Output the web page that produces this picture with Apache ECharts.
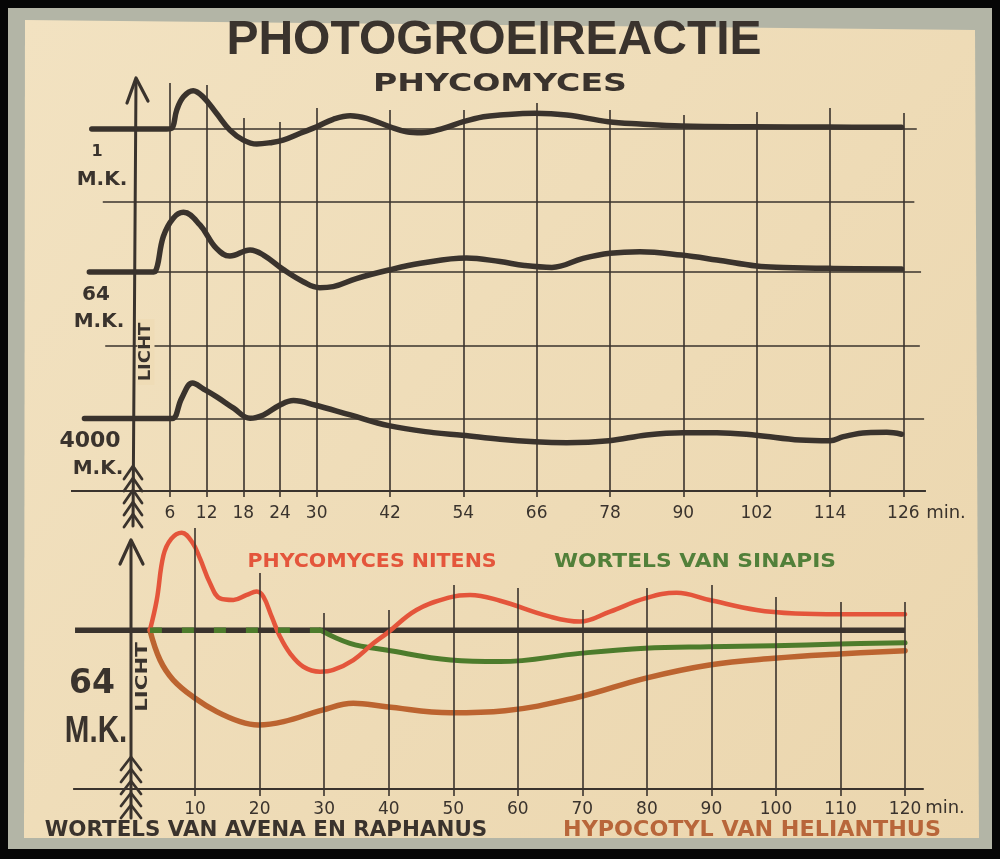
<!DOCTYPE html>
<html><head><meta charset="utf-8">
<script src="https://cdn.jsdelivr.net/npm/echarts@6/dist/echarts.min.js"></script>
<style>html,body{margin:0;padding:0;background:#060606}#c{width:1000px;height:859px}</style>
</head><body><div id="c"></div>
<script>
// ---------------- DATA ----------------
// x tick labels (minutes)
const topTicks = [6, 12, 18, 24, 30, 42, 54, 66, 78, 90, 102, 114, 126];
const bottomTicks = [10, 20, 30, 40, 50, 60, 70, 80, 90, 100, 110, 120];

// Phycomyces, 1 M.K. (time in min, growth deviation in arbitrary units)
const t1mk = [-6.8, 5.5, 6.3, 7.1, 8.2, 9.8, 11.4, 13.6, 15.8, 18.0, 20.2, 22.4, 24.5, 27.3, 30.0, 32.7, 35.5, 38.2, 42.0, 44.7, 47.2, 50.7, 54.0, 57.3, 60.0, 65.7, 70.9, 77.7, 82.9, 89.7, 101.5, 113.7, 125.7];
const v1mk = [0, 0, 0.05, 1.3, 2.22, 2.64, 2.22, 1.08, -0.08, -0.77, -1.04, -0.95, -0.77, -0.3, 0.15, 0.66, 0.91, 0.73, 0.15, -0.19, -0.26, 0.04, 0.5, 0.84, 0.96, 1.08, 0.96, 0.5, 0.34, 0.2, 0.15, 0.13, 0.11];

// Phycomyces, 64 M.K.
const t64mk = [-7.2, 3.0, 3.6, 4.9, 6.5, 8.2, 10.9, 13.6, 15.8, 19.1, 21.3, 24.5, 27.8, 30.5, 32.7, 36.5, 41.8, 47.0, 54.5, 60.0, 64.0, 68.5, 73.6, 78.0, 82.9, 89.7, 95.5, 102.0, 106.4, 114.5, 125.7];
const v64mk = [0, 0, 0.05, 2.44, 3.7, 4.12, 3.25, 1.63, 1.1, 1.52, 1.17, 0.18, -0.67, -1.08, -1.01, -0.45, 0.14, 0.6, 0.97, 0.72, 0.45, 0.32, 0.94, 1.29, 1.4, 1.17, 0.83, 0.41, 0.32, 0.25, 0.2];

// Phycomyces, 4000 M.K.
const t4000mk = [-8.0, 5.8, 6.55, 7.9, 9.7, 11.45, 13.65, 16.4, 19.1, 21.3, 24.0, 26.2, 29.7, 35.5, 41.8, 49.1, 53.8, 60.0, 65.7, 70.9, 77.8, 84.0, 89.9, 95.5, 101.9, 109.1, 114.0, 116.2, 120.0, 123.3, 125.7];
const v4000mk = [0, 0, 0.02, 1.4, 2.45, 2.05, 1.5, 0.72, 0.02, 0.25, 0.94, 1.24, 0.94, 0.25, -0.49, -0.97, -1.15, -1.43, -1.6, -1.66, -1.53, -1.13, -0.97, -0.97, -1.15, -1.48, -1.53, -1.25, -0.97, -0.95, -1.08];

// Lower chart, 64 M.K.
const tNitens = [3.0, 4.06, 5.09, 6.3, 7.93, 9.6, 10.77, 12.32, 13.87, 15.93, 18.0, 19.55, 20.58, 21.87, 23.16, 24.71, 26.77, 29.36, 31.42, 34.52, 37.62, 39.7, 44.3, 49.5, 52.6, 57.25, 65.0, 69.6, 74.3, 79.7, 84.6, 89.7, 97.0, 103.0, 109.8, 120.0];
const vNitens = [0, 1.9, 4.7, 5.75, 6.14, 5.5, 4.5, 2.95, 2.0, 1.9, 2.22, 2.43, 2.11, 0.85, -0.41, -1.46, -2.3, -2.61, -2.5, -1.88, -0.83, -0.2, 1.27, 2.07, 2.22, 1.85, 0.85, 0.54, 1.17, 2.0, 2.36, 1.9, 1.27, 1.05, 1.0, 1.0];

const tSinapisLatent = [3.0, 29.4];
const vSinapisLatent = [0, 0];
const tSinapis = [29.4, 34.0, 39.6, 49.6, 57.25, 69.6, 79.7, 89.6, 99.7, 109.8, 120.0];
const vSinapis = [0, -0.83, -1.25, -1.88, -1.98, -1.46, -1.14, -1.04, -0.98, -0.87, -0.79];

const tHelianthus = [3.0, 4.57, 6.63, 10.0, 13.35, 16.97, 19.8, 23.7, 29.7, 34.5, 39.6, 49.6, 58.0, 69.6, 79.7, 89.7, 99.7, 109.8, 120.0];
const vHelianthus = [0, -1.88, -3.14, -4.29, -5.13, -5.76, -5.97, -5.76, -5.03, -4.6, -4.82, -5.2, -5.07, -4.19, -3.03, -2.19, -1.77, -1.5, -1.29];

const tAvena = [-8.6, 120.0];
const vAvena = [0, 0];

// ---------------- STYLE / LAYOUT ----------------
const INK = '#3a332d';
const RED = '#e4553b';
const GREEN = '#4d7c2c';
const BROWN = '#bc6430';
// hand-drawn heights of the vertical rules (in axis units)
const topRuleTops = [3.17, 3.03, 0.75, 0.48, 1.44, 1.31, 1.31, 1.79, 1.31, 0.96, 1.17, 1.44, 1.1];
const bottomRuleTops = [6.43, 3.6, 1.08, 1.27, 2.84, 2.65, 1.27, 2.65, 2.84, 2.09, 1.77, 1.77];
// horizontal rules of the upper chart: [y, xStart, xEnd] in yAxis 0 units
const topRules = [[0, -6.8, 128.2], [-5, -5.0, 127.8], [-9.88, -7.25, 128.9], [-15, -4.6, 128.7], [-20, -8.1, 129.4]];

function pairs(t, v) { return t.map((x, i) => [x, v[i]]); }
function seg(x1, y1, x2, y2, w) {
  const a = { coord: [x1, y1] };
  if (w) a.lineStyle = { width: w, color: INK, type: 'solid' };
  return [a, { coord: [x2, y2] }];
}

const topMarks = [];
topRules.forEach(r => topMarks.push(seg(r[1], r[0], r[2], r[0])));
topMarks.push(seg(-10.2, -25, 129.7, -25, 2.2));
topTicks.forEach((x, i) => topMarks.push(seg(x, topRuleTops[i], x, -25)));

const botMarks = [];
botMarks.push(seg(-8.9, -10, 122.9, -10, 2.2));
bottomTicks.forEach((x, i) => botMarks.push(seg(x, bottomRuleTops[i], x, -10)));

function markSeries(xi, yi, data) {
  return {
    type: 'line', xAxisIndex: xi, yAxisIndex: yi, data: [], z: 1, silent: true,
    markLine: {
      silent: true, symbol: ['none', 'none'], label: { show: false }, animation: false,
      emphasis: { disabled: true },
      lineStyle: { color: INK, width: 1.6, type: 'solid' }, data: data
    }
  };
}
function curve(name, xi, yi, t, v, color, width, extra) {
  return Object.assign({
    name: name, type: 'line', xAxisIndex: xi, yAxisIndex: yi, data: pairs(t, v),
    smooth: 0.4, symbol: 'none', showSymbol: false, z: 3, silent: true,
    lineStyle: { color: color, width: width, cap: 'round', join: 'round' }
  }, extra || {});
}

const axisLabelStyle = { color: INK, fontFamily: 'DejaVu Sans', fontSize: 17 };

// text helper
function txt(x, y, text, font, fill, extra) {
  return Object.assign({
    type: 'text', x: x, y: y, z: 50,
    style: { text: text, font: font, fill: fill, align: 'center', verticalAlign: 'middle' }
  }, extra || {});
}
function pl(points, w) {
  return { type: 'polyline', z: 40, shape: { points: points }, style: { stroke: INK, lineWidth: w, fill: null, lineCap: 'round', lineJoin: 'round' } };
}

const graphics = [
  { type: 'rect', z: -5, shape: { x: 8, y: 8, width: 984, height: 841 }, style: { fill: '#b3b5a6' } },
  { type: 'polygon', z: -4, shape: { points: [[25, 20], [975, 30], [979, 838], [24, 838]] },
    style: { fill: new echarts.graphic.LinearGradient(0, 0, 1, 1, [{ offset: 0, color: '#f2e2c1' }, { offset: 1, color: '#ebd6ae' }]) } },
  txt(494, 41, 'PHOTOGROEIREACTIE', 'bold 48px "Liberation Sans"', INK),
  txt(500, 85, 'PHYCOMYCES', 'bold 24px "DejaVu Sans"', INK, { scaleX: 1.38 }),
  txt(97, 152, '1', 'bold 16px "DejaVu Sans"', INK),
  txt(102, 180, 'M.K.', 'bold 20px "DejaVu Sans"', INK),
  txt(96, 295, '64', 'bold 20px "DejaVu Sans"', INK),
  txt(99, 322, 'M.K.', 'bold 20px "DejaVu Sans"', INK),
  txt(90, 441, '4000', 'bold 22px "DejaVu Sans"', INK),
  txt(98, 469, 'M.K.', 'bold 20px "DejaVu Sans"', INK),
  txt(92, 684, '64', 'bold 33px "DejaVu Sans"', INK),
  txt(96, 732, 'M.K.', 'bold 36px "Liberation Sans"', INK, { scaleX: 0.82 }),
  txt(372, 562, 'PHYCOMYCES NITENS', 'bold 19px "DejaVu Sans"', RED, { scaleX: 1.08 }),
  txt(695, 562, 'WORTELS VAN SINAPIS', 'bold 20px "DejaVu Sans"', '#52803a', { scaleX: 1.09 }),
  txt(266, 831, 'WORTELS VAN AVENA EN RAPHANUS', 'bold 21px "DejaVu Sans"', INK, { scaleX: 1.02 }),
  txt(752, 831, 'HYPOCOTYL VAN HELIANTHUS', 'bold 21px "DejaVu Sans"', '#b8663a', { scaleX: 1.06 }),
  txt(946, 513, 'min.', '18px "DejaVu Sans"', INK),
  txt(945, 808, 'min.', '18px "DejaVu Sans"', INK),
  // arrows
  pl([[136, 80], [133, 526]], 3),
  pl([[127, 103], [136, 78], [148, 101]], 3.2),
  pl([[131, 541], [131, 818]], 3),
  pl([[120, 564], [131, 540], [143, 564]], 3.2)
];
[466, 478, 490, 502, 514].forEach(y => graphics.push(pl([[124, y + 13], [133, y], [142, y + 13]], 2.8)));
[757, 769, 781, 793, 805].forEach(y => graphics.push(pl([[121, y + 13], [131, y], [141, y + 13]], 2.8)));
const lichtTop = txt(146, 352, 'LICHT', 'bold 15px "DejaVu Sans"', INK, { rotation: Math.PI / 2, scaleX: 1.2, z: 60 });
lichtTop.style.backgroundColor = '#efdcb6';
lichtTop.style.padding = [1, 3];
graphics.push(lichtTop);
graphics.push(txt(143, 677, 'LICHT', 'bold 15px "DejaVu Sans"', INK, { rotation: Math.PI / 2, scaleX: 1.42, z: 60 }));

const option = {
  backgroundColor: '#060606',
  animation: false,
  grid: [
    { left: 60, right: 60, top: 56.5, bottom: 368 },
    { left: 66, right: 30.4, top: 519, bottom: 70 }
  ],
  xAxis: [
    { type: 'value', gridIndex: 0, min: -12, max: 132,
      axisLine: { show: false, onZero: false }, splitLine: { show: false },
      axisTick: { show: true, customValues: topTicks, length: 6, lineStyle: { color: INK, width: 1.6 } },
      axisLabel: Object.assign({ customValues: topTicks, margin: 14 }, axisLabelStyle) },
    { type: 'value', gridIndex: 1, min: -10, max: 130,
      axisLine: { show: false, onZero: false }, splitLine: { show: false },
      axisTick: { show: true, customValues: bottomTicks, length: 7, lineStyle: { color: INK, width: 1.6 } },
      axisLabel: Object.assign({ customValues: bottomTicks, margin: 12 }, axisLabelStyle) }
  ],
  yAxis: [
    { type: 'value', gridIndex: 0, min: -25, max: 5, show: false },
    { type: 'value', gridIndex: 0, min: -15.12, max: 14.88, show: false },
    { type: 'value', gridIndex: 0, min: -5, max: 25, show: false },
    { type: 'value', gridIndex: 1, min: -10, max: 7, show: false }
  ],
  graphic: { elements: graphics },
  series: [
    markSeries(0, 0, topMarks),
    markSeries(1, 3, botMarks),
    curve('1 M.K.', 0, 0, t1mk, v1mk, INK, 5.5),
    curve('64 M.K.', 0, 1, t64mk, v64mk, INK, 5.5),
    curve('4000 M.K.', 0, 2, t4000mk, v4000mk, INK, 5.5),
    curve('Wortels van Avena en Raphanus', 1, 3, tAvena, vAvena, INK, 5.5, { smooth: false, lineStyle: { color: INK, width: 5.5, cap: 'butt' } }),
    curve('Hypocotyl van Helianthus', 1, 3, tHelianthus, vHelianthus, BROWN, 5.5),
    curve('Wortels van Sinapis (latent)', 1, 3, tSinapisLatent, vSinapisLatent, GREEN, 5.5, { smooth: false, z: 4, lineStyle: { color: GREEN, width: 5.5, type: [12, 20], cap: 'butt' } }),
    curve('Wortels van Sinapis', 1, 3, tSinapis, vSinapis, GREEN, 5),
    curve('Phycomyces nitens', 1, 3, tNitens, vNitens, RED, 4.5)
  ]
};

const chart = echarts.init(document.getElementById('c'), null, { renderer: 'canvas', width: 1000, height: 859 });
chart.setOption(option);
</script>
</body></html>
